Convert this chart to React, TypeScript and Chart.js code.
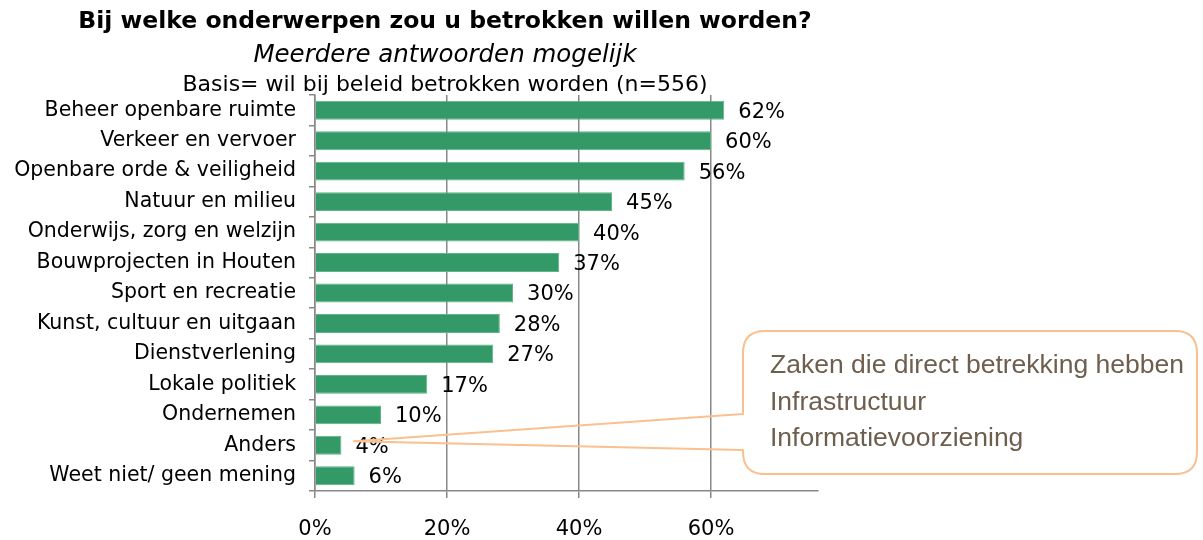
import { useEffect, useRef } from 'react';
import { Chart, registerables } from 'chart.js';

Chart.register(...registerables);

const categories = [
  'Beheer openbare ruimte',
  'Verkeer en vervoer',
  'Openbare orde & veiligheid',
  'Natuur en milieu',
  'Onderwijs, zorg en welzijn',
  'Bouwprojecten in Houten',
  'Sport en recreatie',
  'Kunst, cultuur en uitgaan',
  'Dienstverlening',
  'Lokale politiek',
  'Ondernemen',
  'Anders',
  'Weet niet/ geen mening',
];

const values = [62, 60, 56, 45, 40, 37, 30, 28, 27, 17, 10, 4, 6];

const xTickValues = [0, 20, 40, 60];
const xMax = 76.2;

const titleLines = [
  'Bij welke onderwerpen zou u betrokken willen worden?',
  'Meerdere antwoorden mogelijk',
  'Basis= wil bij beleid betrokken worden (n=556)',
];

const calloutLines = ['Zaken die direct betrekking hebben', 'Infrastructuur', 'Informatievoorziening'];
const calloutTarget = 'Anders';

const FONT = '"DejaVu Sans", sans-serif';
const GRID = '#888888';

const dataLabelPlugin = {
  id: 'dataLabels',
  afterDatasetsDraw(chart: any) {
    const { ctx } = chart;
    const meta = chart.getDatasetMeta(0);
    ctx.save();
    ctx.font = `21px ${FONT}`;
    ctx.fillStyle = '#000';
    ctx.textAlign = 'left';
    ctx.textBaseline = 'middle';
    meta.data.forEach((el: any, i: number) => {
      ctx.fillText(`${values[i]}%`, el.x + 14, el.y + 2);
    });
    ctx.restore();
  },
};

const titlePlugin = {
  id: 'titles',
  afterDraw(chart: any) {
    const { ctx } = chart;
    const cx = 445;
    ctx.save();
    ctx.fillStyle = '#000';
    ctx.textAlign = 'center';
    ctx.textBaseline = 'alphabetic';
    ctx.font = `bold 23.5px ${FONT}`;
    ctx.fillText(titleLines[0], cx, 28);
    ctx.font = `italic 24.5px ${FONT}`;
    ctx.fillText(titleLines[1], cx, 62);
    ctx.font = `22px ${FONT}`;
    ctx.fillText(titleLines[2], cx, 91);
    ctx.restore();
  },
};

const calloutPlugin = {
  id: 'callout',
  afterDraw(chart: any) {
    const { ctx, scales } = chart;
    const idx = categories.indexOf(calloutTarget);
    const tipX = scales.x.getPixelForValue(5.9);
    const tipY = scales.y.getPixelForValue(idx) - 4;
    const L = 743, T = 331, R = 1197, B = 474, r = 22;
    const wTop = 414, wBot = 450;
    ctx.save();
    ctx.strokeStyle = '#FAC090';
    ctx.lineWidth = 2;
    ctx.lineJoin = 'round';
    ctx.beginPath();
    ctx.moveTo(L, wTop);
    ctx.lineTo(tipX, tipY);
    ctx.lineTo(L, wBot);
    ctx.lineTo(L, B - r);
    ctx.quadraticCurveTo(L, B, L + r, B);
    ctx.lineTo(R - r, B);
    ctx.quadraticCurveTo(R, B, R, B - r);
    ctx.lineTo(R, T + r);
    ctx.quadraticCurveTo(R, T, R - r, T);
    ctx.lineTo(L + r, T);
    ctx.quadraticCurveTo(L, T, L, T + r);
    ctx.closePath();
    ctx.stroke();
    ctx.fillStyle = '#6E5E4E';
    ctx.font = '26.5px "Liberation Sans", Arial, sans-serif';
    ctx.textAlign = 'left';
    ctx.textBaseline = 'alphabetic';
    calloutLines.forEach((line, i) => {
      ctx.fillText(line, 770, 373 + i * 36.5);
    });
    ctx.restore();
  },
};

export default function App() {
  const ref = useRef<HTMLCanvasElement>(null);

  useEffect(() => {
    if (!ref.current) return;
    const chart = new Chart(ref.current, {
      type: 'bar',
      data: {
        labels: categories,
        datasets: [
          {
            data: values,
            backgroundColor: '#339966',
            borderColor: '#5fb386',
            borderWidth: 1,
            barPercentage: 0.62,
            categoryPercentage: 1,
          },
        ],
      },
      options: {
        indexAxis: 'y',
        animation: false,
        responsive: true,
        maintainAspectRatio: false,
        layout: { padding: { top: 95, right: 385, left: 0, bottom: 0 } },
        plugins: {
          legend: { display: false },
          tooltip: { enabled: false },
          title: { display: false },
        },
        scales: {
          x: {
            type: 'linear',
            min: 0,
            max: xMax,
            afterBuildTicks(scale: any) {
              scale.ticks = xTickValues.map((v) => ({ value: v }));
            },
            afterFit(scale: any) {
              scale.height = 49;
            },
            ticks: {
              callback: (v: any) => `${v}%`,
              font: { family: FONT, size: 21 },
              color: '#000',
              padding: 19,
            },
            grid: { color: GRID, lineWidth: 1.5, tickLength: 7, drawTicks: true },
            border: { color: GRID, width: 1.5 },
          },
          y: {
            type: 'category',
            afterFit(scale: any) {
              scale.width = 315;
            },
            ticks: {
              font: { family: FONT, size: 20.5 },
              color: '#000',
              padding: 13,
              autoSkip: false,
            },
            grid: { drawOnChartArea: false, drawTicks: true, tickLength: 6, offset: true, color: GRID, lineWidth: 1.5 },
            border: { color: GRID, width: 1.5 },
          },
        },
      },
      plugins: [dataLabelPlugin, titlePlugin, calloutPlugin],
    });
    return () => chart.destroy();
  }, []);

  return (
    <div style={{ position: 'fixed', left: 0, top: 0, width: 1203, height: 540, background: '#fff' }}>
      <canvas ref={ref} />
    </div>
  );
}
